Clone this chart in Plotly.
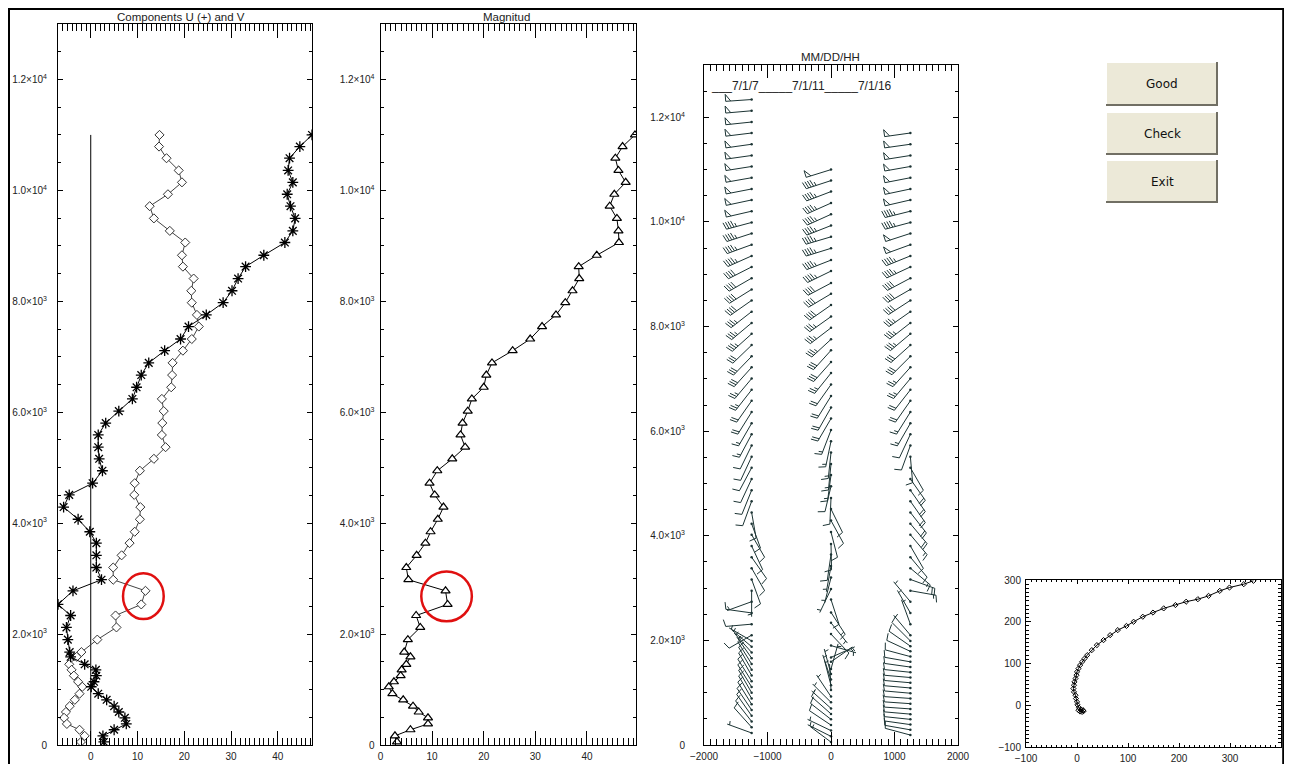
import math
import plotly.graph_objects as go

# ---------------- data ----------------
HEIGHTS = [11000, 10790, 10580, 10360, 10145, 9930, 9715, 9495, 9270, 9060,
           8830, 8625, 8410, 8190, 7975, 7755, 7545, 7320, 7110, 6890,
           6670, 6450, 6240, 6020, 5805, 5590, 5370, 5160, 4945, 4720,
           4510, 4290, 4070, 3845, 3640, 3420, 3200, 2980, 2780, 2535,
           2335, 2120, 1900, 1675, 1590, 1455, 1355, 1250, 1140, 1050,
           925, 815, 700, 595, 490, 380, 275, 165, 55]
U_COMP = [47.3, 44.7, 42.5, 42.2, 43.2, 42.0, 42.7, 43.7, 43.2, 41.5,
          37.0, 33.1, 31.5, 30.2, 28.3, 24.7, 20.9, 19.2, 15.8, 12.4,
          10.8, 9.8, 8.9, 6.0, 3.2, 1.6, 1.6, 1.8, 2.5, 0.4,
          -4.6, -5.8, -2.7, -0.2, 1.2, 1.2, 1.2, 2.3, -3.8, -7.0,
          -4.3, -5.2, -4.9, -4.5, -4.3, -1.3, 1.1, 1.2, 0.7, 0.1,
          1.6, 3.4, 5.0, 6.0, 7.3, 7.6, 5.0, 2.6, 2.8]
V_COMP = [14.7, 14.6, 16.2, 18.8, 19.5, 16.5, 12.6, 13.5, 16.9, 20.2,
          19.5, 19.7, 22.0, 21.5, 21.6, 22.7, 23.1, 21.6, 19.7, 17.5,
          17.4, 17.2, 15.2, 15.6, 15.3, 15.2, 16.0, 13.5, 10.5, 9.4,
          9.3, 10.6, 10.5, 9.4, 8.3, 6.6, 4.8, 4.8, 11.7, 10.8,
          5.3, 5.5, 1.4, -2.0, -3.0, -4.6, -4.1, -3.6, -2.7, -1.8,
          -2.4, -3.4, -4.5, -5.3, -5.7, -5.1, -2.4, -1.3, -2.1]
MAGNITUDE = [49.3, 46.9, 45.5, 46.1, 47.5, 45.3, 44.4, 45.8, 46.1, 46.2,
             41.9, 38.4, 38.5, 37.2, 35.8, 34.0, 31.3, 29.0, 25.6, 21.6,
             20.5, 20.0, 17.7, 16.9, 15.9, 15.5, 16.4, 13.9, 11.0, 9.5,
             10.5, 12.2, 11.1, 9.7, 8.7, 7.0, 5.0, 5.4, 12.6, 13.0,
             6.9, 7.7, 5.3, 4.6, 5.8, 5.0, 4.1, 3.9, 2.6, 1.6,
             2.3, 4.4, 6.3, 7.4, 9.2, 9.2, 5.8, 2.8, 3.2]

# wind-barb soundings (speed, direction-from in degrees)
C1_H = [12340, 12125, 11910, 11700, 11485, 11270, 11060, 10845, 10630, 10420, 10205,
        9990, 9780, 9565, 9350, 9140, 8925, 8710, 8500, 8285, 8070,
        7860, 7645, 7430, 7220, 7005, 6790, 6580, 6365, 6150, 5940,
        5725, 5510, 5300, 5085, 4870, 4660, 4445, 4230, 4020, 3805,
        3590, 3380, 3165, 2950, 2740, 2525, 2310, 2100,
        1990, 1880, 1770, 1660, 1550, 1440, 1330, 1220, 1110, 1000,
        890, 780, 670, 560, 450, 340, 230]
C1_S = [50, 50, 52, 50, 52, 50, 52, 50, 50, 50, 48,
        45, 45, 45, 45, 42, 40, 40, 38, 36, 35,
        33, 32, 30, 28, 26, 24, 20, 18, 15, 14,
        12, 10, 10, 10, 10, 10, 8, 10, 10, 12,
        10, 10, 8, 5, 6, 10, 10, 8,
        6, 6, 7, 7, 8, 8, 10, 10, 10, 10,
        10, 10, 10, 10, 8, 8, 6]
C1_D = [266, 265, 264, 263, 262, 262, 261, 260, 259, 258, 257,
        255, 252, 250, 246, 243, 240, 238, 235, 232, 230,
        228, 226, 224, 222, 220, 218, 215, 212, 210, 208,
        206, 205, 208, 205, 202, 200, 170, 160, 150, 155,
        145, 150, 160, 180, 250, 278, 265, 240,
        300, 310, 318, 325, 328, 330, 330, 328, 328, 330,
        330, 328, 326, 325, 322, 318, 290]
C3_H = [11700, 11485, 11270, 11060, 10845, 10630, 10420, 10205, 9990, 9780,
        9565, 9350, 9140, 8925, 8710, 8500, 8285, 8070, 7860, 7645,
        7430, 7220, 7005, 6790, 6580, 6365, 6150, 5940, 5725, 5510,
        5300, 5085, 4870, 4660, 4445, 4230, 4020, 3805, 3590, 3380,
        3165, 2950, 2740, 2525, 2310, 2100,
        1990, 1890, 1790, 1690, 1590, 1490, 1390, 1290, 1190, 1090,
        990, 890, 790, 690, 590, 490, 390, 290, 190]
C3_S = [50, 50, 50, 50, 50, 50, 48, 45, 45, 48,
        48, 45, 45, 40, 40, 40, 36, 35, 34, 30,
        30, 26, 25, 22, 20, 16, 15, 12, 10, 10,
        10, 18, 20, 20, 20, 20, 15, 10, 10, 14,
        20, 15, 6, 5, 5, 6,
        8, 8, 8, 8, 8, 9, 9, 9, 9, 9,
        9, 9, 9, 9, 9, 9, 8, 8, 8]
C3_D = [262, 262, 261, 260, 259, 258, 257, 256, 255, 252,
        250, 248, 245, 242, 240, 237, 235, 232, 230, 228,
        225, 222, 220, 218, 215, 212, 210, 205, 200, 175,
        150, 145, 145, 145, 142, 140, 140, 150, 140, 130,
        110, 100, 320, 330, 340, 320,
        315, 305, 295, 285, 280, 278, 276, 275, 275, 275,
        275, 274, 274, 274, 275, 276, 278, 280, 285]
STATION_X = [-1250, 0, 1250]
STATION_LABELS = ['7/1/7', '7/1/11', '7/1/16']

HODO_X = [346, 327, 299, 280, 258, 237, 214, 193, 170, 149,
          129, 111, 97, 80, 65, 52, 39, 29, 20, 15,
          10, 6, 3, 0, -1, -3, -5, -6, -7, -6,
          -3, -2, 0, 1, 4, 8, 12, 13, 10, 6, 3]
HODO_Y = [298, 290, 282, 274, 262, 254, 248, 240, 232, 222,
          212, 200, 190, 180, 168, 156, 144, 132, 120, 112,
          104, 96, 88, 80, 72, 64, 56, 48, 40, 32,
          24, 16, 8, 1, -6, -10, -12, -14, -16, -15, -12]

Y_TICKVALS = [0, 2000, 4000, 6000, 8000, 10000, 12000]
Y_TICKTEXT = ['0', '2.0×10<sup>3</sup>', '4.0×10<sup>3</sup>', '6.0×10<sup>3</sup>',
              '8.0×10<sup>3</sup>', '1.0×10<sup>4</sup>', '1.2×10<sup>4</sup>']
P1_XRANGE = [-7.0, 47.3]
P2_XRANGE = [0, 49.5]
P3_XRANGE = [-2000, 2000]
HEIGHT_RANGE = [0, 13000]
P4_XRANGE = [-100, 400]
P4_YRANGE = [-100, 300]
BUTTONS = ['Good', 'Check', 'Exit']

# ---------------- layout helpers (window pixels -> paper) ----------------
OX, OY = 8, 8            # default page margin around the figure
FW, FH = 1276, 756       # figure size so that the page is exactly 1292 x 772


def fx(px):
    return (px - OX) / FW


def fy(py):
    return 1 - (py - OY) / FH


P1 = (58, 312, 24, 745)
P2 = (380.5, 636, 24, 745)
P3 = (704, 958, 65, 745)
P4 = (1026, 1281, 580, 747)

TICKFONT = dict(family='Liberation Sans', size=10, color='#222')
INK = 'black'
BARB = '#1c3434'


def axis(panel, horizontal, rng, anchor, ticklen, mlen, mdtick, standoff=0, **kw):
    x0, x1, y0, y1 = panel
    dom = [fx(x0), fx(x1)] if horizontal else [fy(y1), fy(y0)]
    d = dict(domain=dom, range=rng, anchor=anchor, showline=True, linecolor=INK,
             linewidth=1, mirror='ticks', ticks='inside', ticklen=ticklen, tickwidth=1,
             tickcolor=INK, showgrid=False, zeroline=False, tickfont=TICKFONT,
             fixedrange=True, ticklabelstandoff=standoff, automargin=False,
             minor=dict(ticks='inside', ticklen=mlen, dtick=mdtick, tick0=0,
                        tickcolor=INK, tickwidth=1, showgrid=False))
    d.update(kw)
    return d


fig = go.Figure()

# ---------------- panel 1: components ----------------
fig.add_trace(go.Scatter(x=[0, 0], y=[0, HEIGHTS[0]], mode='lines',
                         line=dict(color=INK, width=1), xaxis='x', yaxis='y', hoverinfo='skip'))
fig.add_trace(go.Scatter(x=V_COMP, y=HEIGHTS, mode='lines+markers', xaxis='x', yaxis='y',
                         line=dict(color='#444', width=1),
                         marker=dict(symbol='diamond', size=7, color='white',
                                     line=dict(color='#333', width=1))))
fig.add_trace(go.Scatter(x=U_COMP, y=HEIGHTS, mode='lines+markers', xaxis='x', yaxis='y',
                         line=dict(color=INK, width=1),
                         marker=dict(symbol='asterisk-open', size=9,
                                     line=dict(color=INK, width=1.3))))

# ---------------- panel 2: magnitude ----------------
fig.add_trace(go.Scatter(x=MAGNITUDE, y=HEIGHTS, mode='lines+markers', xaxis='x2', yaxis='y2',
                         line=dict(color=INK, width=1),
                         marker=dict(symbol='triangle-up', size=8, color='white',
                                     line=dict(color=INK, width=1.2))))

# ---------------- panel 3: wind barbs ----------------
SX = (P3_XRANGE[1] - P3_XRANGE[0]) / (P3[1] - P3[0])
SY = (HEIGHT_RANGE[1] - HEIGHT_RANGE[0]) / (P3[3] - P3[2])
L, BL, PW, SP = 26, 7, 5, 2.6


def barbs(x0, hs, dirs_e, dirs_n, speeds):
    xs, ys = [], []
    for h, ex, ny, s in zip(hs, dirs_e, dirs_n, speeds):
        px, py = ny, -ex

        def P(t, q):
            return x0 + (ex * t + px * q) * SX, h + (ny * t + py * q) * SY

        def seg(pts):
            for a, b in pts:
                xs.append(a)
                ys.append(b)
            xs.append(None)
            ys.append(None)

        seg([P(0, 0), P(L, 0)])
        r = int(5 * round(s / 5))
        n50 = r // 50
        r -= 50 * n50
        n10 = r // 10
        r -= 10 * n10
        n5 = r // 5
        t = L
        for _ in range(n50):
            seg([P(t, 0), P(t, BL), P(t - PW, 0)])
            t -= PW + 1.2
        if n50 == 0 and n10 == 0 and n5:
            t -= SP
        for _ in range(n10):
            seg([P(t, 0), P(t + 1.8, BL)])
            t -= SP
        if n5:
            seg([P(t, 0), P(t + 0.9, BL * 0.55)])
    return xs, ys


cols = []
for x0, hs, ss, ds in [(STATION_X[0], C1_H, C1_S, C1_D), (STATION_X[2], C3_H, C3_S, C3_D)]:
    e = [math.sin(math.radians(d)) for d in ds]
    n = [math.cos(math.radians(d)) for d in ds]
    cols.append((x0, hs, e, n, ss))
sp2 = [math.hypot(u, v) for u, v in zip(U_COMP, V_COMP)]
e2 = [-u / s for u, s in zip(U_COMP, sp2)]
n2 = [-v / s for v, s in zip(V_COMP, sp2)]
cols.insert(1, (STATION_X[1], HEIGHTS, e2, n2, sp2))

for x0, hs, e, n, ss in cols:
    bx, by = barbs(x0, hs, e, n, ss)
    fig.add_trace(go.Scatter(x=bx, y=by, mode='lines', xaxis='x3', yaxis='y3',
                             line=dict(color=BARB, width=1), hoverinfo='skip'))
    fig.add_trace(go.Scatter(x=[x0] * len(hs), y=hs, mode='markers', xaxis='x3', yaxis='y3',
                             marker=dict(size=2.5, color=BARB), hoverinfo='skip'))

# ---------------- panel 4: hodograph ----------------
fig.add_trace(go.Scatter(x=HODO_X, y=HODO_Y, mode='lines+markers', xaxis='x4', yaxis='y4',
                         line=dict(color=INK, width=1),
                         marker=dict(symbol='diamond-open', size=4,
                                     line=dict(color='#555', width=1))))

# ---------------- axes ----------------
fig.update_layout(
    xaxis=axis(P1, True, P1_XRANGE, 'y', 14, 7, 1, 2, tick0=0, dtick=10),
    yaxis=axis(P1, False, HEIGHT_RANGE, 'x', 5, 3, 500, 8,
               tickmode='array', tickvals=Y_TICKVALS, ticktext=Y_TICKTEXT),
    xaxis2=axis(P2, True, P2_XRANGE, 'y2', 14, 7, 1, 2, tick0=0, dtick=10),
    yaxis2=axis(P2, False, HEIGHT_RANGE, 'x2', 5, 3, 500, 3,
                tickmode='array', tickvals=Y_TICKVALS, ticktext=Y_TICKTEXT),
    xaxis3=axis(P3, True, P3_XRANGE, 'y3', 13, 6, 100, 2, tick0=0, dtick=1000),
    yaxis3=axis(P3, False, HEIGHT_RANGE, 'x3', 5, 3, 500, 16,
                tickmode='array', tickvals=Y_TICKVALS, ticktext=Y_TICKTEXT),
    xaxis4=axis(P4, True, P4_XRANGE, 'y4', 4, 2, 10, 2, tick0=0, dtick=100),
    yaxis4=axis(P4, False, P4_YRANGE, 'x4', 5, 3, 10, 2, tick0=0, dtick=100),
)

# ---------------- texts ----------------
TITLEFONT = dict(family='Liberation Sans', size=11.5, color='#222')
ann = [
    dict(text='Components U (+) and V', x=fx(181), y=fy(16.5), xref='paper', yref='paper',
         showarrow=False, font=TITLEFONT, xanchor='center', yanchor='middle'),
    dict(text='Magnitud', x=fx(506), y=fy(16.5), xref='paper', yref='paper',
         showarrow=False, font=TITLEFONT, xanchor='center', yanchor='middle'),
    dict(text='MM/DD/HH', x=fx(830), y=fy(57), xref='paper', yref='paper',
         showarrow=False, font=TITLEFONT, xanchor='center', yanchor='middle'),
    dict(text='___' + '_____'.join(STATION_LABELS), x=fx(709), y=fy(86), xref='paper',
         yref='paper', showarrow=False, xanchor='left', yanchor='middle',
         font=dict(family='Liberation Sans', size=12, color='#222')),
]

shapes = []
# outer frame (left, top, right) - kept just inside the drawable figure
for (a, b, c, d) in [(9, 9, 9, 772), (8, 9, 1284, 9), (1283.2, 9, 1283.2, 772)]:
    shapes.append(dict(type='line', xref='paper', yref='paper', x0=fx(a), y0=fy(b),
                       x1=fx(c), y1=fy(d), line=dict(color='black', width=2)))

# buttons
btn_rows = [(62, 106), (112, 155), (160, 203)]
bx0, bx1 = 1106, 1218
for label, (t, b) in zip(BUTTONS, btn_rows):
    shapes.append(dict(type='rect', xref='paper', yref='paper', x0=fx(bx0), x1=fx(bx1),
                       y0=fy(b), y1=fy(t), fillcolor='#ECE9D8', line=dict(width=0)))
    shapes.append(dict(type='line', xref='paper', yref='paper', x0=fx(bx0), x1=fx(bx1),
                       y0=fy(t + 0.5), y1=fy(t + 0.5), line=dict(color='#FFFFFF', width=1)))
    shapes.append(dict(type='line', xref='paper', yref='paper', x0=fx(bx0 + 0.5), x1=fx(bx0 + 0.5),
                       y0=fy(t), y1=fy(b), line=dict(color='#FFFFFF', width=1)))
    shapes.append(dict(type='line', xref='paper', yref='paper', x0=fx(bx0), x1=fx(bx1),
                       y0=fy(b - 1), y1=fy(b - 1), line=dict(color='#716F64', width=2)))
    shapes.append(dict(type='line', xref='paper', yref='paper', x0=fx(bx1 - 1), x1=fx(bx1 - 1),
                       y0=fy(t), y1=fy(b), line=dict(color='#716F64', width=2)))
    ann.append(dict(text=label, x=fx((bx0 + bx1) / 2), y=fy((t + b) / 2), xref='paper',
                    yref='paper', showarrow=False, xanchor='center', yanchor='middle',
                    font=dict(family='DejaVu Sans', size=12, color='#111')))

# red highlight circles
shapes.append(dict(type='circle', xref='x', yref='y', x0=6.9, x1=15.6, y0=2270, y1=3096,
                   line=dict(color='#E01010', width=2.5)))
shapes.append(dict(type='circle', xref='x2', yref='y2', x0=7.9, x1=17.7, y0=2230, y1=3130,
                   line=dict(color='#E01010', width=2.5)))

fig.update_layout(width=FW, height=FH, autosize=False,
                  margin=dict(l=0, r=0, t=0, b=0, pad=0),
                  paper_bgcolor='white', plot_bgcolor='white', showlegend=False,
                  annotations=ann, shapes=shapes, hovermode=False)

fig.write_html('out.html', config={'displayModeBar': False})
